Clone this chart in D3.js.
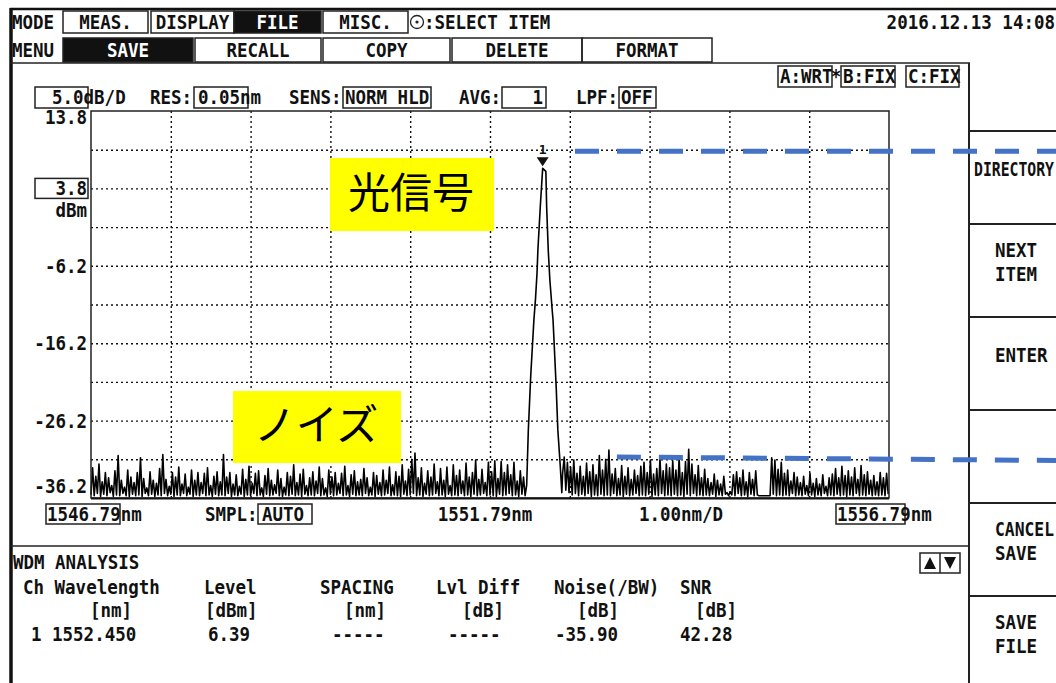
<!DOCTYPE html>
<html>
<head>
<meta charset="utf-8">
<script src="https://cdn.jsdelivr.net/npm/d3@7"></script>
<style>
  body { margin: 0; background: #fff; }
  text { font-family: "DejaVu Sans Mono", monospace; font-weight: bold; font-size: 17.5px; fill: #111; }
  .jp { font-family: "Noto Sans CJK JP", sans-serif; font-weight: normal; font-size: 42px; fill: #000; }
</style>
</head>
<body>
<div id="chart"></div>
<script>
// Screen texts
const modeLabels = ["MEAS.", "DISPLAY", "FILE", "MISC."];
const menuLabels = ["SAVE", "RECALL", "COPY", "DELETE", "FORMAT"];
const softKeys = [["DIRECTORY"], ["NEXT", "ITEM"], ["ENTER"], [], ["CANCEL", "SAVE"], ["SAVE", "FILE"]];
const traceModes = ["A:WRT", "B:FIX", "C:FIX"];
const dateText = "2016.12.13 14:08";

// Axis settings
const startNm = 1546.79;
const stopNm = 1556.79;
const centerNm = 1551.79;
const refLevel = 13.8;
const dbPerDiv = 5.0;
const yLabels = [13.8, 3.8, -6.2, -16.2, -26.2, -36.2];

// Trace samples (dBm), noise sampled every 0.02 nm
const noiseStepNm = 0.02;
const noiseLeftStart = 1546.79;
const noiseLeft = [
  -35.8,-32.3,-35.9,-33.4,-35.6,-31.8,-36.0,-34.1,-35.7,-32.9,
  -35.9,-33.6,-35.5,-34.6,-36.0,-32.7,-35.8,-30.7,-35.9,-33.9,
  -35.6,-34.8,-35.9,-32.6,-36.0,-33.5,-35.7,-34.2,-35.9,-32.9,
  -35.8,-31.0,-36.0,-33.7,-35.6,-34.9,-35.9,-32.8,-35.7,-33.9,
  -36.0,-34.3,-35.8,-32.4,-35.9,-30.6,-35.6,-33.8,-35.9,-34.7,
  -35.7,-32.9,-36.0,-33.5,-35.8,-32.2,-35.9,-34.4,-35.6,-33.1,
  -35.9,-34.8,-35.7,-32.6,-36.0,-33.9,-35.8,-32.9,-35.9,-34.2,
  -35.6,-33.0,-35.9,-32.3,-35.8,-34.6,-36.0,-33.4,-35.7,-32.8,
  -35.9,-34.1,-35.8,-30.6,-35.9,-33.5,-35.6,-32.9,-36.0,-34.4,
  -35.8,-33.2,-35.9,-34.7,-35.7,-32.5,-36.0,-33.8,-35.8,-32.1,
  -35.9,-34.3,-35.6,-33.0,-35.9,-32.7,-35.8,-34.9,-36.0,-33.3,
  -35.7,-32.4,-35.9,-33.9,-35.8,-34.5,-35.6,-32.6,-35.9,-33.7,
  -36.0,-34.8,-35.8,-32.9,-35.9,-33.4,-35.7,-31.9,-35.9,-34.2,
  -35.8,-33.1,-36.0,-32.5,-35.7,-34.6,-35.9,-33.6,-35.8,-32.8,
  -35.9,-34.0,-35.6,-32.2,-35.9,-33.7,-35.8,-34.9,-36.0,-32.6,
  -35.7,-33.5,-35.9,-32.9,-35.8,-34.3,-35.6,-33.0,-35.9,-32.1,
  -35.8,-34.6,-36.0,-33.2,-35.7,-32.7,-35.9,-34.1,-35.8,-33.8,
  -35.9,-32.4,-35.6,-33.6,-35.9,-34.8,-35.8,-32.9,-36.0,-33.3,
  -35.7,-34.2,-35.9,-32.6,-35.8,-33.9,-35.6,-32.2,-35.9,-34.5,
  -35.8,-32.8,-35.9,-33.4,-36.0,-31.9,-35.7,-34.0,-35.9,-32.5,
  -35.8,-31.2,-35.6,-30.4,-35.9,-33.6,-35.8,-32.3,-36.0,-34.3,
  -35.7,-32.7,-35.9,-33.5,-35.8,-31.8,-35.6,-34.1,-35.9,-32.4,
  -35.8,-33.9,-36.0,-32.2,-35.7,-34.6,-35.9,-31.9,-35.8,-33.3,
  -35.9,-32.6,-35.6,-34.0,-35.9,-31.7,-35.8,-33.5,-36.0,-32.9,
  -35.7,-31.3,-35.9,-33.8,-35.8,-32.5,-35.6,-34.2,-35.9,-31.6,
  -35.8,-32.8,-35.9,-31.4,-36.0,-33.7,-35.7,-31.5,-35.9,-32.9,
  -35.8,-31.9,-35.6,-33.2,-35.9,-31.6,-35.8,-34.0,-36.0,-32.7,
  -35.7,-33.5,-35.9
];
const peakNm = [1552.25, 1552.27, 1552.30, 1552.34, 1552.36, 1552.38, 1552.39, 1552.42, 1552.45,
  1552.49, 1552.50, 1552.52, 1552.54, 1552.57, 1552.58, 1552.62, 1552.64, 1552.67, 1552.69];
const peakDbm = [-34.5, -27.5, -20.5, -13.2, -10.5, -7.0, -4.2, 1.4, 6.39,
  6.0, 1.4, -4.2, -8.0, -12.0, -13.2, -22.0, -27.4, -32.0, -35.5];
const noiseRightStart = 1552.70;
const noiseRight = [
  -33.0,-30.9,-35.2,-31.6,-35.5,-32.2,-35.8,-31.3,-35.6,-33.0,
  -35.9,-32.1,-35.7,-33.4,-35.9,-31.7,-35.6,-32.8,-36.0,-31.9,
  -35.8,-33.2,-35.9,-30.7,-35.7,-32.6,-35.9,-31.2,-35.8,-30.0,
  -35.9,-33.1,-35.6,-32.4,-35.9,-33.7,-35.8,-32.0,-36.0,-33.4,
  -35.7,-32.3,-35.9,-33.8,-35.8,-32.6,-35.6,-33.3,-35.9,-32.1,
  -35.8,-31.6,-35.9,-32.9,-35.7,-31.3,-36.0,-33.1,-35.8,-32.4,
  -35.9,-31.1,-35.6,-32.7,-35.9,-31.8,-35.8,-32.3,-35.9,-31.4,
  -35.7,-32.6,-35.9,-31.0,-35.8,-32.9,-36.0,-31.5,-35.7,-29.9,
  -35.9,-31.8,-35.6,-33.2,-35.9,-32.0,-35.8,-33.6,-35.9,-32.5,
  -35.8,-33.7,-35.9,-34.2,-35.7,-33.1,-36.0,-33.9,-35.8,-34.4,
  -35.9,-33.4,-35.7,-35.5,-35.9,-35.4,-35.8,-33.2,-35.9,-32.8,
  -35.6,-33.6,-35.9,-32.6,-35.8,-34.1,-36.0,-32.9,-35.7,-33.8,
  -35.9,-32.7,-35.8,-35.9,-35.9,-35.9,-35.9,-35.9,-35.9,-35.9,
  -35.9,-31.0,-35.7,-31.3,-35.9,-32.5,-35.8,-31.6,-35.9,-33.0,
  -35.8,-32.6,-35.9,-34.0,-35.6,-32.9,-35.9,-33.5,-35.8,-34.2,
  -35.9,-33.4,-35.7,-34.6,-35.9,-33.0,-35.8,-34.3,-36.0,-33.7,
  -35.8,-34.4,-35.9,-33.2,-35.6,-34.7,-35.9,-33.6,-35.8,-33.1,
  -35.9,-32.4,-35.7,-33.6,-35.9,-32.1,-35.8,-33.3,-36.0,-32.7,
  -35.8,-33.5,-35.9,-32.3,-35.6,-33.8,-35.9,-32.0,-35.8,-33.2,
  -35.9,-32.8,-35.7,-33.9,-35.9,-33.3,-35.8,-34.1,-35.9,-32.9,
  -35.8,-33.6,-35.9,-33.0,-35.7
];

// Peak marker and guide levels
const markerNm = 1552.45;
const markerDbm = 6.39;
const signalGuideDbm = 8.6;
const noiseGuideDbm = [-30.9, -31.35];

// WDM analysis table
const wdmHead = ["Ch Wavelength", "Level", "SPACING", "Lvl Diff", "Noise(/BW)", "SNR"];
const wdmUnit = ["[nm]", "[dBm]", "[nm]", "[dB]", "[dB]", "[dB]"];
const wdmRow = ["1 1552.450", "6.39", "-----", "-----", "-35.90", "42.28"];

const W = 1056, H = 683;
const plotL = 91, plotR = 889, plotT = 111, plotB = 498;

const svg = d3.select("#chart").append("svg")
  .attr("width", W).attr("height", H)
  .style("display", "block").style("background", "#fff");

// helper for the tall instrument font
function label(parent, x, y, str, anchor, fill) {
  return parent.append("text")
    .attr("transform", `translate(${x},${y}) scale(1,1.1)`)
    .attr("text-anchor", anchor || "start")
    .attr("dy", "0.36em")
    .style("fill", fill || "#111")
    .text(str);
}
function box(parent, x0, y0, x1, y1, fill) {
  return parent.append("rect")
    .attr("x", x0).attr("y", y0).attr("width", x1 - x0).attr("height", y1 - y0)
    .attr("fill", fill || "none").attr("stroke", "#222").attr("stroke-width", 1.5);
}

// outer screen frame
svg.append("line").attr("x1", 10).attr("x2", W).attr("y1", 9).attr("y2", 9)
  .attr("stroke", "#111").attr("stroke-width", 2.5);
svg.append("line").attr("x1", 11).attr("x2", 11).attr("y1", 8).attr("y2", H)
  .attr("stroke", "#111").attr("stroke-width", 3.5);

// MODE row
const hdr = svg.append("g");
label(hdr, 12, 22, "MODE");
const modeBoxes = [[63, 148], [151, 234], [234, 321], [323, 408]];
modeLabels.forEach((m, i) => {
  const on = m === "FILE";
  box(hdr, modeBoxes[i][0], 11, modeBoxes[i][1], 33, on ? "#111" : "none");
  label(hdr, (modeBoxes[i][0] + modeBoxes[i][1]) / 2, 22, m, "middle", on ? "#fff" : "#111");
});
hdr.append("circle").attr("cx", 417).attr("cy", 22).attr("r", 6.5)
  .attr("fill", "none").attr("stroke", "#222").attr("stroke-width", 1.3);
hdr.append("circle").attr("cx", 417).attr("cy", 22).attr("r", 1.6).attr("fill", "#222");
label(hdr, 424, 22, ":SELECT ITEM");
label(hdr, 1055, 22, dateText, "end");

// MENU row
label(hdr, 12, 50, "MENU");
const menuBoxes = [[63, 193], [195, 321], [323, 450], [452, 582], [582, 712]];
menuLabels.forEach((m, i) => {
  const on = m === "SAVE";
  box(hdr, menuBoxes[i][0], 38, menuBoxes[i][1], 62, on ? "#111" : "none");
  label(hdr, (menuBoxes[i][0] + menuBoxes[i][1]) / 2, 50, m, "middle", on ? "#fff" : "#111");
});
svg.append("line").attr("x1", 10).attr("x2", 970).attr("y1", 63).attr("y2", 63)
  .attr("stroke", "#222").attr("stroke-width", 1.5);
svg.append("line").attr("x1", 969).attr("x2", 969).attr("y1", 63).attr("y2", H)
  .attr("stroke", "#222").attr("stroke-width", 2);

// trace mode boxes
const tmBoxes = [[778, 832], [841, 895], [906, 959]];
traceModes.forEach((t, i) => {
  box(hdr, tmBoxes[i][0], 66, tmBoxes[i][1], 87);
  label(hdr, tmBoxes[i][0] + 2, 76.5, t);
});
label(hdr, 836, 76.5, "*", "middle");

// parameter row
const py = 97.5;
box(hdr, 35, 87, 88, 108);
label(hdr, 52, py, "5.0dB/D");
label(hdr, 150, py, "RES:");
box(hdr, 194, 87, 248, 108);
label(hdr, 198, py, "0.05nm");
label(hdr, 289, py, "SENS:");
box(hdr, 343, 87, 431, 108);
label(hdr, 345, py, "NORM HLD");
label(hdr, 459, py, "AVG:");
box(hdr, 502, 87, 546, 108);
label(hdr, 543, py, "1", "end");
label(hdr, 576, py, "LPF:");
box(hdr, 619, 87, 656, 108);
label(hdr, 621, py, "OFF");

// scales
const x = d3.scaleLinear().domain([startNm, stopNm]).range([plotL, plotR]);
const y = d3.scaleLinear().domain([refLevel - 10 * dbPerDiv, refLevel]).range([plotB, plotT]);

// grid through axes
const gx = svg.append("g").attr("transform", `translate(0,${plotB})`)
  .call(d3.axisBottom(x).tickValues(d3.range(1, 10).map(i => startNm + i))
    .tickSize(-(plotB - plotT)).tickFormat(""));
const gy = svg.append("g").attr("transform", `translate(${plotL},0)`)
  .call(d3.axisLeft(y).tickValues(d3.range(1, 10).map(i => refLevel - i * dbPerDiv))
    .tickSize(-(plotR - plotL)).tickFormat(""));
[gx, gy].forEach(g => {
  g.select(".domain").remove();
  g.selectAll(".tick line").attr("stroke", "#111").attr("stroke-width", 1.4)
    .attr("stroke-dasharray", "2,3");
});

// trace
const trace = noiseLeft.map((v, i) => [noiseLeftStart + i * noiseStepNm, v])
  .concat(peakNm.map((n, i) => [n, peakDbm[i]]))
  .concat(noiseRight.map((v, i) => [noiseRightStart + i * noiseStepNm, v]));
svg.append("path").datum(trace)
  .attr("d", d3.line().x(d => x(d[0])).y(d => y(d[1])))
  .attr("fill", "none").attr("stroke", "#000").attr("stroke-width", 1.6)
  .attr("stroke-linejoin", "round");

// plot frame
svg.append("rect").attr("x", plotL).attr("y", plotT)
  .attr("width", plotR - plotL).attr("height", plotB - plotT)
  .attr("fill", "none").attr("stroke", "#222").attr("stroke-width", 1.5);
svg.append("line").attr("x1", plotL).attr("x2", plotR).attr("y1", plotB + 0.5).attr("y2", plotB + 0.5)
  .attr("stroke", "#111").attr("stroke-width", 2);

// y labels
yLabels.forEach((v, i) => {
  let yy = y(v);
  if (i === 0) yy += 6;
  if (i === yLabels.length - 1) yy -= 12;
  if (v === 3.8) box(svg, 35, yy - 10, 88, yy + 10);
  label(svg, 87, yy, v.toFixed(1), "end");
});
label(svg, 87, y(3.8) + 22, "dBm", "end");

// x labels
const lx = plotB + 16;
box(svg, 46, lx - 10, 120, lx + 10);
label(svg, 47, lx, startNm.toFixed(2) + "nm");
label(svg, 205, lx, "SMPL:");
box(svg, 258, lx - 10, 312, lx + 10);
label(svg, 262, lx, "AUTO");
label(svg, x(centerNm) - 5, lx, centerNm.toFixed(2) + "nm", "middle");
label(svg, 681, lx, "1.00nm/D", "middle");
box(svg, 836, lx - 10, 905, lx + 10);
label(svg, 837, lx, stopNm.toFixed(2) + "nm");

// peak marker
const mx = x(markerNm), my = y(markerDbm);
svg.append("path")
  .attr("d", `M${mx - 6},${my - 11}L${mx + 6},${my - 11}L${mx},${my - 2}Z`)
  .attr("fill", "#111");
svg.append("text").attr("x", mx).attr("y", my - 14).attr("text-anchor", "middle")
  .style("font-size", "13px").text("1");

// WDM analysis panel
svg.append("line").attr("x1", 10).attr("x2", 969).attr("y1", 546).attr("y2", 546)
  .attr("stroke", "#222").attr("stroke-width", 1.5);
label(svg, 13, 562, "WDM ANALYSIS");
box(svg, 920, 553, 960, 573);
svg.append("line").attr("x1", 940).attr("x2", 940).attr("y1", 553).attr("y2", 573)
  .attr("stroke", "#222").attr("stroke-width", 1.5);
svg.append("path").attr("d", "M924,569L936,569L930,557Z").attr("fill", "#111");
svg.append("path").attr("d", "M944,557L956,557L950,569Z").attr("fill", "#111");
const headX = [23, 204, 320, 436, 554, 680];
const unitX = [90, 205, 344, 462, 577, 695];
const rowX = [31, 208, 332, 448, 555, 680];
wdmHead.forEach((t, i) => label(svg, headX[i], 587, t));
wdmUnit.forEach((t, i) => label(svg, unitX[i], 610, t));
wdmRow.forEach((t, i) => label(svg, rowX[i], 634, t));

// soft keys; long labels squeezed so they stay inside the screen
const keyTops = [131, 224, 317, 410, 503, 596];
keyTops.forEach(k => {
  svg.append("line").attr("x1", 969).attr("x2", W).attr("y1", k).attr("y2", k)
    .attr("stroke", "#222").attr("stroke-width", 2);
});
softKeys.forEach((lines, i) => {
  const cy = keyTops[i] + 46.5;
  lines.forEach((t, j) => {
    const yy = lines.length === 1 ? cy - 8 : cy - 20 + j * 24;
    const sx = t === "DIRECTORY" ? 974 : 995;
    const t1 = label(svg, sx, yy, t);
    const room = W - 2 - sx;
    if (t.length * 10.5 > room) {
      t1.attr("textLength", room).attr("lengthAdjust", "spacingAndGlyphs");
    }
  });
});

// callouts
svg.append("rect").attr("x", 330).attr("y", 158).attr("width", 164).attr("height", 73).attr("fill", "#ffff00");
svg.append("text").attr("class", "jp").attr("x", 411).attr("y", 193).attr("dy", "0.36em")
  .attr("text-anchor", "middle").text("光信号");
svg.append("rect").attr("x", 233).attr("y", 391).attr("width", 168).attr("height", 72).attr("fill", "#ffff00");
svg.append("text").attr("class", "jp").attr("x", 316).attr("y", 425).attr("dy", "0.36em")
  .attr("text-anchor", "middle").text("ノイズ");

// blue guides
const guideEnd = x.invert(W);
svg.append("line")
  .attr("x1", x(1552.855)).attr("x2", x(guideEnd))
  .attr("y1", y(signalGuideDbm)).attr("y2", y(signalGuideDbm))
  .attr("stroke", "#4472c4").attr("stroke-width", 5).attr("stroke-dasharray", "24,18");
svg.append("line")
  .attr("x1", x(1553.38)).attr("x2", x(guideEnd))
  .attr("y1", y(noiseGuideDbm[0])).attr("y2", y(noiseGuideDbm[1]))
  .attr("stroke", "#4472c4").attr("stroke-width", 5).attr("stroke-dasharray", "24,18");
</script>
</body>
</html>
